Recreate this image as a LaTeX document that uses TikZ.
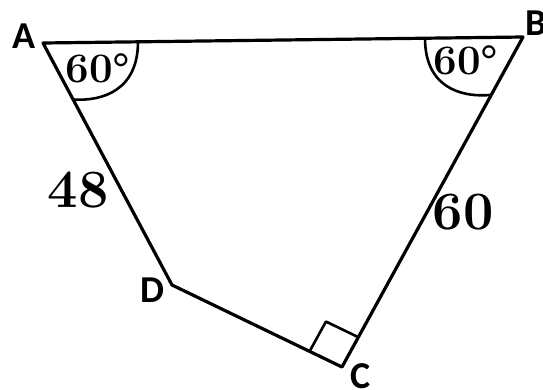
\documentclass[tikz,border=0pt]{standalone}
\usepackage{fontspec}
\newfontfamily\vtxfont{Carlito}
\usetikzlibrary{calc}

\begin{document}
\begin{tikzpicture}[x=1pt, y=-1pt,
  edge/.style={line width=3.2pt, line join=round, line cap=round},
  angmark/.style={line width=2.6pt, line join=round},
  vtxlbl/.style={font=\vtxfont\bfseries\fontsize{38}{38}\selectfont, inner sep=0pt},
  sidelbl/.style={font=\bfseries\fontsize{54}{54}\selectfont, inner sep=0pt},
  anglbl/.style={font=\bfseries\fontsize{42}{42}\selectfont, inner sep=0pt}
]
\useasboundingbox (0,0) rectangle (543,389);
%% vertices
\coordinate (A) at (43,43);
\coordinate (B) at (523,37);
\coordinate (C) at (342,367);
\coordinate (D) at (172,285);
%% quadrilateral
\draw[edge] (A) -- (B) -- (C) -- (D) -- cycle;
%% angle marks
\coordinate (a1) at ($(A)!95pt!(B)$);
\coordinate (a2) at ($(A)!64pt!(D)$);
\draw[angmark] (a1) .. controls ($(a1)+(0,48)$) and ($(a2)+(30,2)$) .. (a2);
\coordinate (b1) at ($(B)!98pt!(A)$);
\coordinate (b2) at ($(B)!66pt!(C)$);
\draw[angmark] (b1) .. controls ($(b1)+(0,48)$) and ($(b2)+(-32,3)$) .. (b2);
%% right angle at C
\coordinate (c1) at ($(C)!36pt!(D)$);
\coordinate (c2) at ($(C)!34pt!(B)$);
\draw[angmark] (c1) -- ($(c1)+(c2)-(C)$) -- (c2);
%% labels
\node[vtxlbl] (lA) at (24,36) {A};
\node[vtxlbl] (lB) at (536,23) {B};
\node[vtxlbl] (lC) at (361,376) {C};
\node[vtxlbl] (lD) at (152,290) {D};
\node[sidelbl] (sAD) at (78,190) {48};
\node[sidelbl] (sBC) at (463,212) {60};
\node[anglbl] (angA) at (98,68) {60\textdegree};
\node[anglbl] (angB) at (466,60) {60\textdegree};
\end{tikzpicture}
\end{document}
